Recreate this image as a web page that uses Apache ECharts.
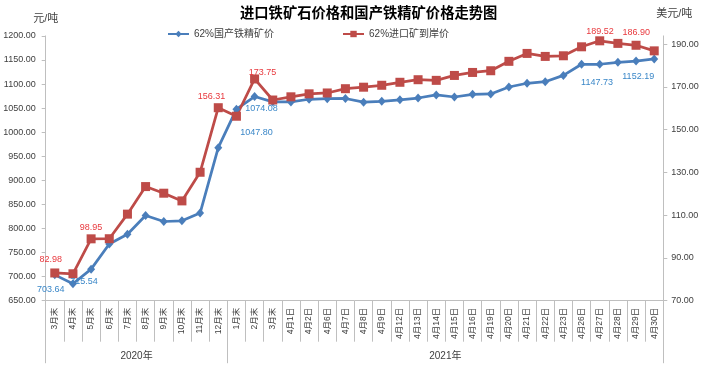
<!DOCTYPE html>
<html>
<head>
<meta charset="utf-8">
<script src="https://cdn.jsdelivr.net/npm/echarts@6/dist/echarts.min.js"></script>
<style>html,body{margin:0;padding:0;background:#fff;}#c{width:716px;height:371px;}</style>
</head>
<body>
<div id="c"></div>
<script>
// ---- data ----
const categories = ['3月末','4月末','5月末','6月末','7月末','8月末','9月末','10月末','11月末','12月末',
  '1月末','2月末','3月末','4月1日','4月2日','4月6日','4月7日','4月8日','4月9日','4月12日','4月13日','4月14日',
  '4月15日','4月16日','4月19日','4月20日','4月21日','4月22日','4月23日','4月26日','4月27日','4月28日','4月29日','4月30日'];
const yearLabels = ['2020年','2021年'];
const yearCounts = [10, 24];
const domesticName = '62%国产铁精矿价';
const importName = '62%进口矿到岸价';
const domesticPrice = [703.64,685.3,715.54,767.8,788,827,814.5,816,832,967.8,
  1047.80,1074.08,1063,1062.8,1068.4,1069.6,1070,1062.4,1064.2,1067.2,1071,1077.5,
  1073.1,1078.7,1079.4,1093.9,1101.6,1104.9,1118,1141.1,1141.1,1145.2,1147.73,1152.19];
const importPrice = [82.98,82.6,98.95,99.0,110.5,123.4,120.3,116.7,130.1,160.3,
  156.31,173.75,163.9,165.4,166.8,167.2,169.2,169.9,170.8,172.2,173.4,173.1,
  175.4,176.8,177.6,182.0,185.7,184.3,184.6,188.8,191.6,190.4,189.52,186.90];
const leftTicks = {min: 650, max: 1200, step: 50};
const rightTicks = {min: 70, max: 193.9, step: 20};

// ---- label placement (style) ----
const domesticLabelOffsets = {0: [-4, 15], 2: [-7, 12], 10: [20, 23], 11: [7, 12], 32: [-39, 21], 33: [-16, 18]};
const importLabelOffsets = {0: [-4, -13], 2: [0, -11], 10: [-25, -20], 11: [8, -6], 32: [-36, -14], 33: [-18, -18]};

function withLabels(values, offsets, color) {
  return values.map((v, i) => offsets[i] ? {
    value: v,
    label: {show: true, position: 'inside', offset: offsets[i], color: color, fontSize: 9,
      formatter: p => Number(p.value).toFixed(2)}
  } : v);
}

// secondary (year) axis slots on boundaries
const total = yearCounts.reduce((a, b) => a + b, 0);
const yearSlots = new Array(total + 1).fill('');
const yearBounds = [0];
let acc = 0;
yearCounts.forEach((n, k) => {
  const mid = acc + n / 2;
  yearSlots[Math.round(mid)] = yearLabels[k];
  acc += n;
  yearBounds.push(acc);
});

const FONT = "'Liberation Sans', 'Noto Sans CJK SC', sans-serif";
const gray = '#BFBFBF';
const txt = '#404040';

const chart = echarts.init(document.getElementById('c'), null, {renderer: 'canvas'});
chart.setOption({
  animation: false,
  textStyle: {fontFamily: FONT},
  title: {
    text: '进口铁矿石价格和国产铁精矿价格走势图',
    left: 240, top: 5, padding: 0,
    textStyle: {fontSize: 14.3, fontWeight: 'bold', color: '#000', fontFamily: "'Noto Sans CJK SC', sans-serif"}
  },
  legend: {
    data: [domesticName, importName],
    left: 167, top: 29, padding: 0,
    itemWidth: 21, itemHeight: 8, itemGap: 68,
    textStyle: {fontSize: 10, color: txt}
  },
  grid: {left: 45.7, right: 52.7, top: 35.9, bottom: 70.3, containLabel: false},
  xAxis: [
    {
      type: 'category', data: categories, boundaryGap: true, position: 'bottom',
      axisLine: {show: true, lineStyle: {color: gray, width: 1}},
      axisTick: {show: true, interval: 0, length: 41, lineStyle: {color: gray}},
      axisLabel: {interval: 0, rotate: 90, fontSize: 8.5, color: txt, margin: 7}
    },
    {
      type: 'category', data: yearSlots, boundaryGap: false, position: 'bottom',
      axisLine: {show: false},
      axisTick: {show: true, length: 62.5, lineStyle: {color: gray},
        interval: (idx) => yearBounds.indexOf(idx) >= 0},
      axisLabel: {interval: 0, fontSize: 10, color: txt, margin: 51}
    }
  ],
  yAxis: [
    {
      type: 'value', position: 'left', min: leftTicks.min, max: leftTicks.max, interval: leftTicks.step,
      name: '元/吨', nameLocation: 'end', nameGap: 11,
      nameTextStyle: {fontSize: 11, color: txt},
      axisLine: {show: true, lineStyle: {color: gray}},
      axisTick: {show: true, length: 4, lineStyle: {color: gray}},
      splitLine: {show: false},
      axisLabel: {fontSize: 9, color: txt, margin: 10, formatter: v => v.toFixed(2)}
    },
    {
      type: 'value', position: 'right', min: rightTicks.min, max: rightTicks.max, interval: rightTicks.step,
      name: '美元/吨', nameLocation: 'end', nameGap: 16,
      nameTextStyle: {fontSize: 11, color: txt, padding: [0, 0, 0, 22]},
      axisLine: {show: true, lineStyle: {color: gray}},
      axisTick: {show: true, length: 4, lineStyle: {color: gray}},
      splitLine: {show: false},
      axisLabel: {fontSize: 9, color: txt, margin: 8, showMaxLabel: false, formatter: v => v.toFixed(2)}
    }
  ],
  series: [
    {
      name: domesticName, type: 'line', xAxisIndex: 0, yAxisIndex: 0,
      data: withLabels(domesticPrice, domesticLabelOffsets, '#3A87C8'),
      symbol: 'diamond', symbolSize: [8, 9],
      itemStyle: {color: '#4A7EBB'},
      lineStyle: {color: '#4A7EBB', width: 2.75}
    },
    {
      name: importName, type: 'line', xAxisIndex: 0, yAxisIndex: 1,
      data: withLabels(importPrice, importLabelOffsets, '#E8383D'),
      symbol: 'rect', symbolSize: 9,
      itemStyle: {color: '#BE4B48'},
      lineStyle: {color: '#BE4B48', width: 2.75}
    }
  ]
});
</script>
</body>
</html>
